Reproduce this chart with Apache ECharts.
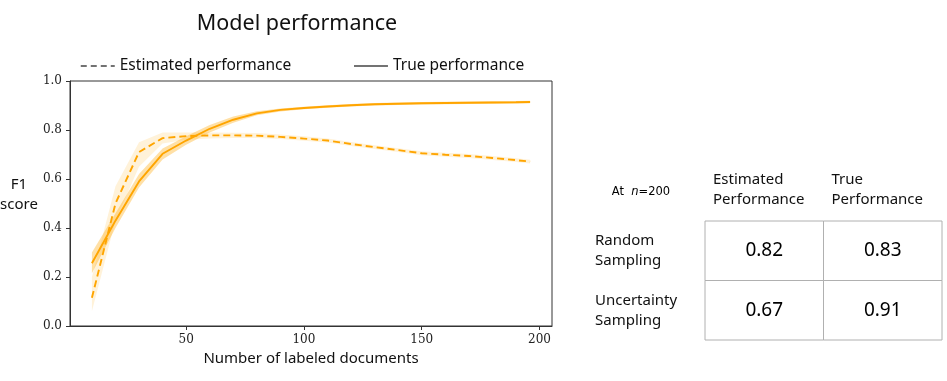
<!DOCTYPE html>
<html><head><meta charset="utf-8">
<script src="https://cdn.jsdelivr.net/npm/echarts@6/dist/echarts.min.js"></script>
<style>html,body{margin:0;padding:0;background:#fff}#c{width:947px;height:381px}</style>
</head><body><div id="c"></div>
<script>
// ---- data ----
const nDocs = [10,20,30,40,50,60,70,80,90,100,110,120,130,140,150,160,170,180,190,196];
const trueF1 = [0.256,0.43,0.59,0.703,0.757,0.805,0.842,0.868,0.882,0.89,0.896,0.901,0.905,0.907,0.909,0.91,0.911,0.912,0.913,0.914];
const trueLow = [0.215,0.40,0.565,0.68,0.74,0.79,0.83,0.86,0.876,0.885,0.891,0.896,0.900,0.902,0.904,0.905,0.906,0.907,0.908,0.909];
const trueHigh = [0.30,0.46,0.62,0.725,0.775,0.82,0.855,0.877,0.888,0.895,0.901,0.906,0.910,0.912,0.914,0.915,0.916,0.917,0.918,0.919];
const estF1 = [0.115,0.50,0.71,0.767,0.775,0.778,0.778,0.777,0.772,0.765,0.757,0.743,0.73,0.718,0.705,0.699,0.694,0.686,0.677,0.671];
const estLow = [0.06,0.43,0.65,0.745,0.76,0.765,0.767,0.767,0.763,0.756,0.749,0.735,0.722,0.710,0.697,0.691,0.686,0.678,0.669,0.663];
const estHigh = [0.20,0.57,0.75,0.79,0.79,0.79,0.789,0.788,0.782,0.774,0.765,0.751,0.738,0.726,0.713,0.707,0.702,0.694,0.685,0.679];
const xTicks = [50,100,150,200];
const tableCols = ['Estimated\nPerformance','True\nPerformance'];
const tableRows = ['Random\nSampling','Uncertainty\nSampling'];
const tableValues = [[0.82,0.83],[0.67,0.91]];

// ---- chart ----
const ORANGE = '#FFA500';
const SANS = '"Noto Sans", sans-serif';
const SERIF = '"DejaVu Serif", serif';
const pairs = (xs, ys) => xs.map((x,i)=>[x, ys[i]]);

const chart = echarts.init(document.getElementById('c'), null, {renderer:'canvas'});

// table graphics
const T = {left:705, top:221, cw:118.5, rh:59.5};
const g = [];
tableValues.forEach((row,i)=>row.forEach((v,j)=>{
  g.push({type:'rect', shape:{x:T.left+j*T.cw, y:T.top+i*T.rh, width:T.cw, height:T.rh},
    style:{fill:'none', stroke:'#b0b0b0', lineWidth:1}, silent:true});
  g.push({type:'text', x:T.left+j*T.cw+T.cw/2, y:T.top+i*T.rh+T.rh/2,
    style:{text:v.toFixed(2), font:'19px '+SANS, fill:'#000', align:'center', verticalAlign:'middle'}});
}));
tableCols.forEach((c,j)=>g.push({type:'text', x:T.left+8+j*T.cw, y:190,
  style:{text:c, font:'15px '+SANS, fill:'#111', align:'left', verticalAlign:'middle', lineHeight:20}}));
tableRows.forEach((r,i)=>g.push({type:'text', x:595, y:T.top+i*T.rh+T.rh/2,
  style:{text:r, font:'15px '+SANS, fill:'#111', align:'left', verticalAlign:'middle', lineHeight:20}}));
g.push({type:'text', x:641, y:192, style:{
  text:'{a|At  }{i|n}{a|=200}', align:'center', verticalAlign:'middle',
  rich:{a:{fontFamily:'"DejaVu Sans"', fontSize:11.5, color:'#111'}, i:{fontFamily:'"DejaVu Sans"', fontStyle:'italic', fontSize:11.5, color:'#111'}}}});
g.push({type:'text', x:19, y:195, style:{text:'F1\nscore', font:'15px '+SANS, fill:'#111', align:'center', verticalAlign:'middle', lineHeight:20}});

// band drawn as a polygon through the axes' scales
function band(lo, hi, op){
  return {type:'custom', silent:true, z:1, data:[[nDocs[0], lo[0]]],
    renderItem:(params, api)=>{
      const pts = [];
      nDocs.forEach((x,i)=>pts.push(api.coord([x, hi[i]])));
      for(let i=nDocs.length-1;i>=0;i--) pts.push(api.coord([nDocs[i], lo[i]]));
      return {type:'polygon', shape:{points:pts}, style:{fill:ORANGE, opacity:op}};
    }};
}

chart.setOption({
  animation:false,
  title:{text:'Model performance', left:292, top:8, textAlign:'center',
    textStyle:{fontFamily:SANS, fontSize:21.5, fontWeight:'normal', color:'#111'}},
  legend:{left:75, top:53, itemWidth:34, itemHeight:14, itemGap:62,
    textStyle:{fontFamily:SANS, fontSize:15.5, color:'#111'},
    data:[
      {name:'Estimated performance', itemStyle:{opacity:0}, lineStyle:{color:'#444', type:[6,4], width:1.5}},
      {name:'True performance', itemStyle:{opacity:0}, lineStyle:{color:'#444', type:'solid', width:1.5}}
    ]},
  grid:{left:70, right:395, top:81, bottom:55, show:true, borderColor:'#333', borderWidth:1, backgroundColor:'transparent'},
  xAxis:{type:'value', min:0.7, max:205.3,
    name:'Number of labeled documents', nameLocation:'middle', nameGap:25,
    nameTextStyle:{fontFamily:SANS, fontSize:15, color:'#111'},
    axisLine:{show:true, onZero:false, lineStyle:{color:'#333'}},
    axisTick:{show:true, length:4, lineStyle:{color:'#333'}, customValues:xTicks},
    axisLabel:{fontFamily:SERIF, fontSize:12, color:'#222', margin:8, customValues:xTicks},
    splitLine:{show:false}},
  yAxis:{type:'value', min:0, max:1, interval:0.2,
    axisLine:{show:true, lineStyle:{color:'#333'}},
    axisTick:{show:true, length:4, lineStyle:{color:'#333'}},
    axisLabel:{fontFamily:SERIF, fontSize:12, color:'#222', margin:8, formatter:v=>v.toFixed(1)},
    splitLine:{show:false}},
  graphic:g,
  series:[
    band(estLow, estHigh, 0.15),
    band(trueLow, trueHigh, 0.35),
    {name:'Estimated performance', type:'line', data:pairs(nDocs, estF1), symbol:'none', color:ORANGE, lineStyle:{color:ORANGE, width:1.9, type:[7,4]}, z:3},
    {name:'True performance', type:'line', data:pairs(nDocs, trueF1), symbol:'none', color:ORANGE, lineStyle:{color:ORANGE, width:1.9}, z:3}
  ]
});
</script></body></html>
